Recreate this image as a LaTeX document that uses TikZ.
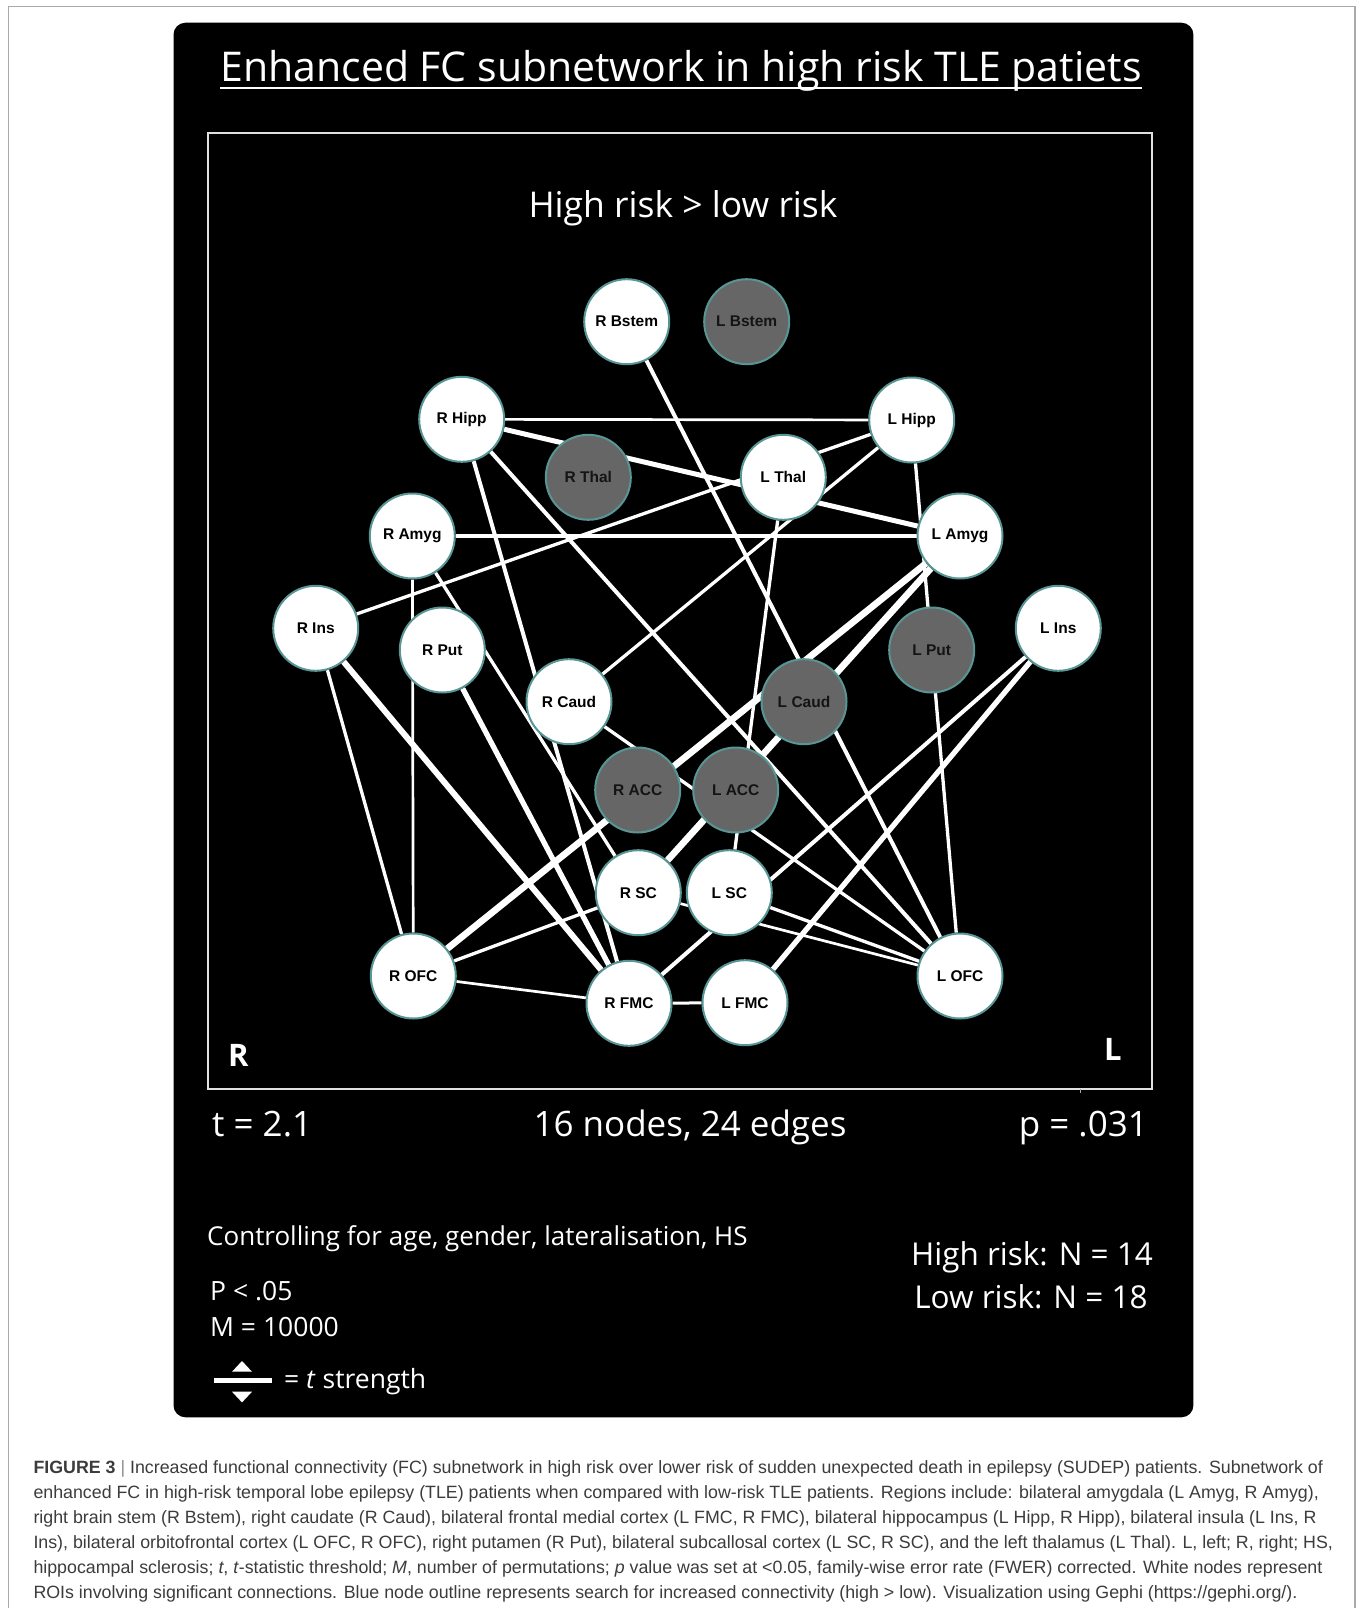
\documentclass[tikz,border=0pt]{standalone}
\usepackage{fontspec}
\setmainfont{Open Sans}
\newfontfamily\lblfont{Liberation Sans}
\newfontfamily\capfont{Liberation Sans}
\pgfdeclarelayer{bg}
\pgfdeclarelayer{edges}
\pgfsetlayers{bg,edges,main}
\definecolor{ringc}{RGB}{88,150,150}
\definecolor{grayfill}{RGB}{102,102,102}
\definecolor{captxt}{RGB}{60,60,60}
\definecolor{framegray}{RGB}{170,170,170}
\tikzset{
  wn/.style={circle, draw=ringc, line width=2pt, fill=white, minimum size=85pt, inner sep=0pt,
    font=\lblfont\bfseries\fontsize{15.5}{16}\selectfont, text=black},
  gn/.style={wn, fill=grayfill, text={black!92}},
  cn/.style={draw=white, line width=#1},
  wtxt/.style={text=white, inner sep=0pt},
  captline/.style={anchor=base west, inner sep=0pt, text=captxt, font=\capfont\fontsize{17.8}{19}\selectfont}
}
\begin{document}
\begin{tikzpicture}[x=1pt,y=-1pt]
\useasboundingbox (0,0) rectangle (1358,1608);
\begin{pgfonlayer}{bg}
\fill[white] (0,0) rectangle (1358,1608);
\draw[framegray, line width=1.4pt] (8.5,1610) -- (8.5,6.7) -- (1355,6.7) -- (1355,1610);
\fill[black, rounded corners=12pt] (173.5,22.7) rectangle (1193.4,1417.3);
\draw[white!88!black, line width=2pt] (207.5,133.3) rectangle (1151.5,1089);
\draw[white!65!black, line width=1pt] (1080,1089) -- (1080,1093);
\end{pgfonlayer}

% titles
\node[wtxt, anchor=base, font=\fontsize{41}{44}\selectfont] (title) at (681,81.7) {Enhanced FC subnetwork in high risk TLE patiets};
\draw[white, line width=2pt] (title.west |- 0,88.5) -- (title.east |- 0,88.5);
\node[wtxt, anchor=base, font=\fontsize{35.5}{38}\selectfont] (sub) at (683,217) {High risk > low risk};

% nodes
\node[wn] (RBstem) at (626.7,321.7) {R Bstem};
\node[gn] (LBstem) at (746.7,321.7) {L Bstem};
\node[wn] (RHipp) at (461.7,419.3) {R Hipp};
\node[wn] (LHipp) at (911.7,420) {L Hipp};
\node[gn] (RThal) at (588.3,477.3) {R Thal};
\node[wn] (LThal) at (783.3,477.3) {L Thal};
\node[wn] (RAmyg) at (412.3,536) {R Amyg};
\node[wn] (LAmyg) at (960,536) {L Amyg};
\node[wn] (RIns) at (315.7,628.3) {R Ins};
\node[wn] (LIns) at (1058.3,628.3) {L Ins};
\node[wn] (RPut) at (442.3,650) {R Put};
\node[gn] (LPut) at (931.7,650) {L Put};
\node[wn] (RCaud) at (569,701.7) {R Caud};
\node[gn] (LCaud) at (804,701.7) {L Caud};
\node[gn] (RACC) at (637.7,790) {R ACC};
\node[gn] (LACC) at (735.7,790) {L ACC};
\node[wn] (RSC) at (638.3,892.7) {R SC};
\node[wn] (LSC) at (729.3,892.7) {L SC};
\node[wn] (ROFC) at (413.3,976) {R OFC};
\node[wn] (LOFC) at (960,976) {L OFC};
\node[wn] (RFMC) at (629,1003.3) {R FMC};
\node[wn] (LFMC) at (745,1002.7) {L FMC};

% edges
\begin{pgfonlayer}{edges}
\draw[cn=2.7pt] (RHipp) -- (LHipp);
\draw[cn=5pt] (RHipp) -- (LAmyg);
\draw[cn=4pt] (RHipp) -- (RFMC);
\draw[cn=4pt] (RHipp) -- (LOFC);
\draw[cn=4pt] (RBstem) -- (LOFC);
\draw[cn=3.3pt] (LHipp) -- (RCaud);
\draw[cn=3.3pt] (LHipp) -- (LOFC);
\draw[cn=3.3pt] (RIns) -- (LHipp);
\draw[cn=3.3pt] (LThal) -- (LSC);
\draw[cn=4pt] (RAmyg) -- (LAmyg);
\draw[cn=6.7pt] (ROFC) -- (LAmyg);
\draw[cn=6.7pt] (RSC) -- (LAmyg);
\draw[cn=2.7pt] (RAmyg) -- (ROFC);
\draw[cn=3.3pt] (RAmyg) -- (RSC);
\draw[cn=3.3pt] (RIns) -- (ROFC);
\draw[cn=6pt] (RIns) -- (RFMC);
\draw[cn=5.3pt] (RPut) -- (RFMC);
\draw[cn=3.3pt] (RCaud) -- (LOFC);
\draw[cn=3.3pt] (ROFC) -- (RSC);
\draw[cn=2.7pt] (ROFC) -- (RFMC);
\draw[cn=3.3pt] (LSC) -- (LOFC);
\draw[cn=2.7pt] (RSC) -- (LOFC);
\draw[cn=4pt] (LIns) -- (RFMC);
\draw[cn=5.3pt] (LIns) -- (LFMC);
\draw[cn=3pt] (RFMC) -- (LFMC);
\end{pgfonlayer}

% side letters
\node[wtxt, anchor=base west, font=\bfseries\fontsize{31}{34}\selectfont] (Rside) at (228,1066.7) {R};
\node[wtxt, anchor=base west, font=\bfseries\fontsize{31}{34}\selectfont] (Lside) at (1104,1060.7) {L};

% stats row
\node[wtxt, anchor=base west, font=\fontsize{35}{38}\selectfont] (tval) at (212,1136.7) {t = 2.1};
\node[wtxt, anchor=base, font=\fontsize{35}{38}\selectfont] (nodes) at (690,1136.7) {16 nodes, 24 edges};
\node[wtxt, anchor=base east, font=\fontsize{35}{38}\selectfont] (pval) at (1148,1136.7) {p = .031};

% lower block
\node[wtxt, anchor=base west, font=\fontsize{26}{28}\selectfont] (ctrl) at (207,1245) {Controlling for age, gender, lateralisation, HS};
\node[wtxt, anchor=base, font=\fontsize{31.5}{34}\selectfont] (hiN) at (1032,1265) {High risk: N = 14};
\node[wtxt, anchor=base, font=\fontsize{31.5}{34}\selectfont] (loN) at (1031,1308) {Low risk: N = 18};
\node[wtxt, anchor=base west, font=\fontsize{26.5}{28}\selectfont] (pthr) at (210,1300) {P < .05};
\node[wtxt, anchor=base west, font=\fontsize{26.5}{28}\selectfont] (mperm) at (210,1336.7) {M = 10000};

% legend
\fill[white] (232,1371.7) -- (252,1371.7) -- (242,1361) -- cycle;
\fill[white] (213.8,1378.2) rectangle (272,1383.2);
\fill[white] (232,1391.7) -- (252,1391.7) -- (242,1402.4) -- cycle;
\node[wtxt, anchor=base west, font=\fontsize{26.5}{28}\selectfont] (tstr) at (284,1388) {= \textit{t} strength};

% caption
\node[captline] (c1) at (33.3,1473.2) {\textbf{FIGURE 3} {\color{black!45}|} Increased functional connectivity (FC) subnetwork in high risk over lower risk of sudden unexpected death in epilepsy (SUDEP) patients. Subnetwork of};
\node[captline] (c2) at (33.3,1498.35) {enhanced FC in high-risk temporal lobe epilepsy (TLE) patients when compared with low-risk TLE patients. Regions include: bilateral amygdala (L Amyg, R Amyg),};
\node[captline] (c3) at (33.3,1523.5) {right brain stem (R Bstem), right caudate (R Caud), bilateral frontal medial cortex (L FMC, R FMC), bilateral hippocampus (L Hipp, R Hipp), bilateral insula (L Ins, R};
\node[captline] (c4) at (33.3,1548.65) {Ins), bilateral orbitofrontal cortex (L OFC, R OFC), right putamen (R Put), bilateral subcallosal cortex (L SC, R SC), and the left thalamus (L Thal). L, left; R, right; HS,};
\node[captline] (c5) at (33.3,1573.8) {hippocampal sclerosis; \textit{t}, \textit{t}-statistic threshold; \textit{M}, number of permutations; \textit{p} value was set at <0.05, family-wise error rate (FWER) corrected. White nodes represent};
\node[captline] (c6) at (33.3,1598.95) {ROIs involving significant connections. Blue node outline represents search for increased connectivity (high > low). Visualization using Gephi (https://gephi.org/).};
\end{tikzpicture}
\end{document}
